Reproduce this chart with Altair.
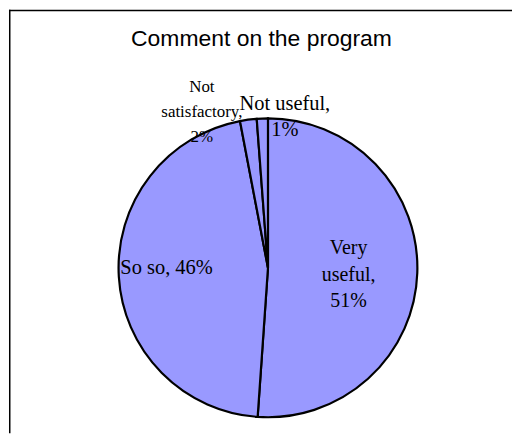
import altair as alt
import pandas as pd

# ---- data ----
categories = ["Very useful", "So so", "Not satisfactory", "Not useful"]
values = [51.1, 45.9, 1.8, 1.2]
label_texts = ["Very\nuseful,\n51%", "So so, 46%", "Not\nsatisfactory,\n2%", "Not useful,\n1%"]
title_text = "Comment on the program"

df = pd.DataFrame({
    "category": categories,
    "value": values,
    "label": label_texts,
    "idx": list(range(len(categories))),
})
one = pd.DataFrame({"t": [title_text]})

# ---- layout / style ----
W, H = 505, 425
CX, CY = 260, 259
R = 150
TWO_PI = 6.283185307179586
theta_scale = alt.Scale(domain=[0, 100], range=[0, TWO_PI])

pie = alt.Chart(df).mark_arc(
    radius=R, fill="#9999FF", stroke="black", strokeWidth=2.2
).encode(
    theta=alt.Theta("value:Q", stack=True, scale=theta_scale),
    order=alt.Order("idx:Q"),
    x=alt.value(CX),
    y=alt.value(CY),
)

label_style = {
    "Very useful": dict(r=81, dx=0, dy=-17, size=20, lh=27),
    "So so": dict(r=103, dx=1, dy=0, size=20.5, lh=27),
    "Not satisfactory": dict(r=170, dx=-44, dy=-8, size=17, lh=25),
    "Not useful": dict(r=160, dx=23, dy=1, size=20.5, lh=27),
}

label_layers = []
for cat in categories:
    s = label_style[cat]
    lyr = alt.Chart(df).transform_window(
        cum="sum(value)", sort=[alt.SortField("idx")], frame=[None, 0]
    ).transform_calculate(
        mid="datum.cum - datum.value / 2"
    ).transform_filter(
        alt.datum.category == cat
    ).mark_text(
        font="Liberation Serif", fontSize=s["size"], lineHeight=s["lh"],
        lineBreak="\n", align="center", baseline="alphabetic",
        dx=s["dx"], dy=s["dy"], color="black",
    ).encode(
        text="label:N",
        theta=alt.Theta("mid:Q", scale=theta_scale),
        radius=alt.value(s["r"]),
        x=alt.value(CX),
        y=alt.value(CY),
    )
    label_layers.append(lyr)

title = alt.Chart(one).mark_text(
    font="Liberation Sans", fontSize=23, baseline="alphabetic", align="center", color="black"
).encode(text="t:N", x=alt.value(253.5), y=alt.value(36.5))

top_border = alt.Chart(one).mark_rule(color="black", strokeWidth=1.5).encode(
    x=alt.value(0), x2=alt.value(W), y=alt.value(0.75)
)
left_border = alt.Chart(one).mark_rule(color="black", strokeWidth=1.5).encode(
    x=alt.value(0.75), y=alt.value(0), y2=alt.value(H)
)

chart = alt.layer(pie, *label_layers, title, top_border, left_border).properties(
    width=W, height=H, padding=0, background="white"
).configure_view(stroke=None)

chart.save("out.html", embed_options={"renderer": "svg", "actions": False})
